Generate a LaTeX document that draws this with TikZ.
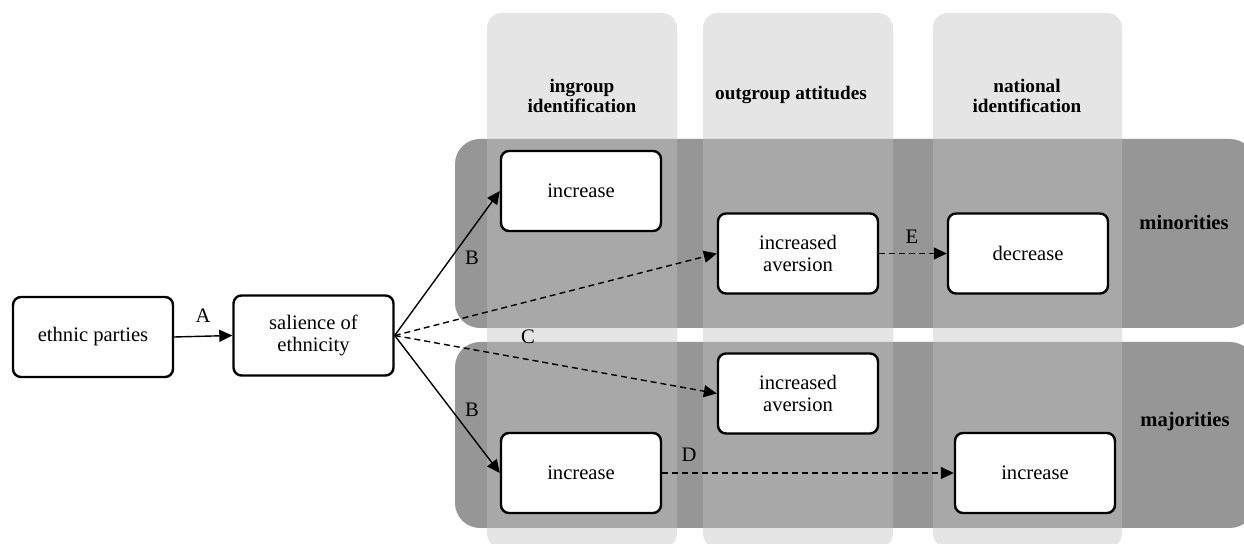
\documentclass[tikz,border=0pt]{standalone}
\usepackage{fontspec}
\setmainfont{Liberation Serif}
\usetikzlibrary{arrows.meta}
\definecolor{rowgray}{gray}{0.59}
\definecolor{colgray}{gray}{0.765}
\tikzset{
  stagebox/.style={draw=black, line width=1.2pt, fill=white, rounded corners=4pt,
    minimum width=80pt, minimum height=40pt, align=center, inner sep=2pt,
    font=\fontsize{10.3}{10.6}\selectfont},
  pathlbl/.style={font=\fontsize{10.3}{10.6}\selectfont, inner sep=0pt},
  headlbl/.style={font=\fontsize{9.6}{10}\selectfont\bfseries, align=center, inner sep=0pt},
  grouplbl/.style={font=\fontsize{10.3}{10.6}\selectfont\bfseries, inner sep=0pt},
  link/.style={line width=0.7pt, -{Triangle[length=6.5pt,width=6pt]}},
  dlink/.style={link, dash pattern=on 3pt off 2pt},
  grouprow/.style={fill=rowgray, rounded corners=12.5pt},
  stagecol/.style={fill=colgray, fill opacity=0.42, rounded corners=7.5pt},
}
\begin{document}
\begin{tikzpicture}[x=0.5pt, y=-0.5pt]
\clip (0,0) rectangle (1244,544);
\fill[white] (0,0) rectangle (1244,544);

% group rows
\fill[grouprow] (455,139) rectangle (1255,328);
\fill[grouprow] (455,342) rectangle (1255,528);

% stage columns, laid over the rows
\fill[stagecol] (487,13) rectangle (677,548);
\fill[stagecol] (703,13) rectangle (893,548);
\fill[stagecol] (933,13) rectangle (1122,548);

% column headings
\node[headlbl] (h1) at (582,96) {ingroup\\identification};
\node[headlbl] (h2) at (791,95) {outgroup attitudes};
\node[headlbl] (h3) at (1027,96) {national\\identification};

% row labels
\node[grouplbl] (gmin) at (1184,222) {minorities};
\node[grouplbl] (gmaj) at (1185,422) {majorities};

% stages
\node[stagebox] (ep) at (93,337) {ethnic parties};
\node[stagebox] (sal) at (313.5,335.5) {salience of\\ethnicity};
\node[stagebox] (miin) at (581,191) {increase};
\node[stagebox] (miav) at (798,253.5) {increased\\aversion};
\node[stagebox] (mide) at (1028,253.5) {decrease};
\node[stagebox] (maav) at (798,393.5) {increased\\aversion};
\node[stagebox] (main) at (581,473) {increase};
\node[stagebox] (manat) at (1035,473) {increase};

% connectors
\draw[link] (ep.east) -- (sal.west);
\draw[link] (sal.east) -- (miin.west);
\draw[link] (sal.east) -- (main.west);
\draw[dlink] (sal.east) -- (miav.west);
\draw[dlink] (sal.east) -- (maav.west);
\draw[dlink] (miav.east) -- (mide.west);
\draw[dlink] (main.east) -- (manat.west);

% path labels
\node[pathlbl] (la) at (203,316) {A};
\node[pathlbl] (lb1) at (472,258) {B};
\node[pathlbl] (lb2) at (472,410) {B};
\node[pathlbl] (lc) at (528,337) {C};
\node[pathlbl] (ld) at (689,455) {D};
\node[pathlbl] (le) at (912,237) {E};
\end{tikzpicture}
\end{document}
